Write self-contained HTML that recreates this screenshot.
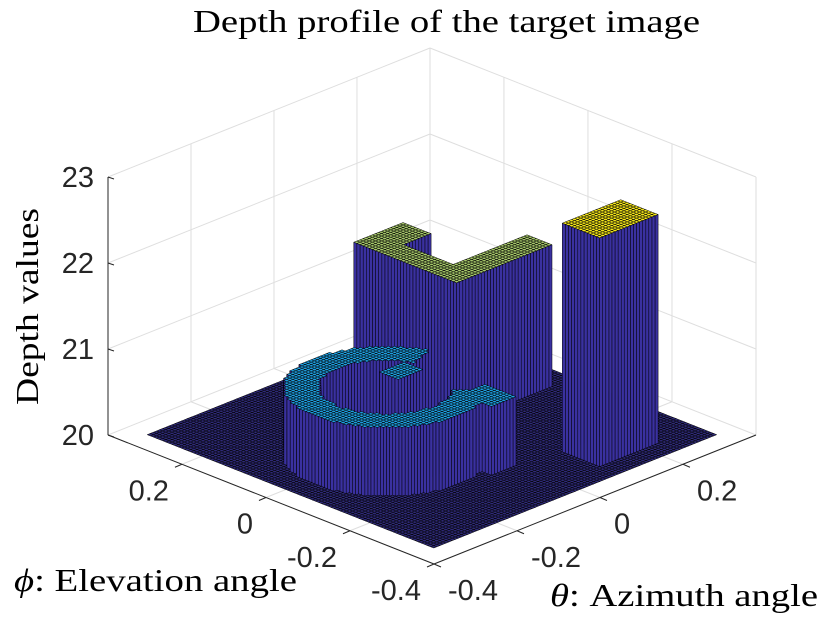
<!DOCTYPE html>
<html><head><meta charset="utf-8"><style>
html,body{margin:0;padding:0;background:#fff;width:835px;height:636px;overflow:hidden}
svg{display:block}
.tk{font-family:"Liberation Sans",sans-serif;font-size:29px;fill:#262626}
.sf{font-family:"Liberation Serif","DejaVu Serif",serif;font-size:32px;fill:#000}
</style></head><body>
<svg id="chart" width="835" height="636" viewBox="0 0 835 636" xmlns="http://www.w3.org/2000/svg">
<g id="grid"></g>
<g id="surf"></g>
<g id="axes"></g>
<text class="sf" x="193" y="32" textLength="507" lengthAdjust="spacingAndGlyphs">Depth profile of the target image</text>
<text class="sf" transform="translate(38,405) rotate(-90)" textLength="197" lengthAdjust="spacingAndGlyphs">Depth values</text>
<text class="sf" x="14" y="591" textLength="283" lengthAdjust="spacingAndGlyphs"><tspan font-style="italic">ϕ</tspan>: Elevation angle</text>
<text class="sf" x="550" y="606" textLength="268" lengthAdjust="spacingAndGlyphs"><tspan font-style="italic">θ</tspan>: Azimuth angle</text>
</svg>
<script>
// ---- data ----
const axisRange = [-0.4, 0.376];
const dataRange = [-0.352, 0.33];
const zRange = [20, 23];
const zTicks = [20, 21, 22, 23];
const thetaTicks = [-0.4, -0.2, 0, 0.2];
const phiTicks = [-0.4, -0.2, 0, 0.2];
const tickLabels = ["-0.4", "-0.2", "0", "0.2"];
const floorZ = 20;
// boxes: [thMin, thMax, phMin, phMax, z]
const boxes = [
  [0.046, 0.10, -0.008, 0.231, 21.65],
  [0.046, 0.17, 0.17, 0.231, 21.65],
  [0.046, 0.28, -0.008, 0.045, 21.65],
  [0.09, 0.235, -0.307, -0.22, 22.66],
  [-0.09, -0.03, -0.01, 0.035, 20.8],
  [-0.06, -0.005, -0.205, -0.13, 20.8]
];
// ring: [centerTh, centerPh, rIn, rOut, gapStartDeg, gapEndDeg, z]
const ring = [-0.13, -0.019, 0.115, 0.172, -50, 20, 20.8];

// ---- projection ----
const span = axisRange[1] - axisRange[0];
function P(th, ph, z) {
  const u = (th - axisRange[0]) / span, v = (ph - axisRange[0]) / span;
  return [434 + 322 * u - 326 * v, 564 - 129 * u - 129 * v - 86 * (z - 20)];
}
const NS = "http://www.w3.org/2000/svg";
function poly(g, pts, fill, stroke, sw) {
  const p = document.createElementNS(NS, "polygon");
  p.setAttribute("points", pts.map(q => q[0].toFixed(1) + "," + q[1].toFixed(1)).join(" "));
  p.setAttribute("fill", fill);
  if (stroke) { p.setAttribute("stroke", stroke); p.setAttribute("stroke-width", sw); p.setAttribute("stroke-linejoin", "round"); }
  g.appendChild(p); return p;
}
function line(g, a, b, color, w) {
  const l = document.createElementNS(NS, "line");
  l.setAttribute("x1", a[0]); l.setAttribute("y1", a[1]);
  l.setAttribute("x2", b[0]); l.setAttribute("y2", b[1]);
  l.setAttribute("stroke", color); l.setAttribute("stroke-width", w);
  g.appendChild(l); return l;
}
function text(g, x, y, s, anchor) {
  const t = document.createElementNS(NS, "text");
  t.setAttribute("x", x); t.setAttribute("y", y);
  t.setAttribute("class", "tk"); t.setAttribute("text-anchor", anchor);
  t.textContent = s; g.appendChild(t); return t;
}

// ---- grid ----
const grid = document.getElementById("grid");
const A0 = axisRange[0], A1 = axisRange[1];
const gc = "#dedede";
zTicks.forEach(z => {
  line(grid, P(A0, A1, z), P(A1, A1, z), gc, 1);
  line(grid, P(A1, A1, z), P(A1, A0, z), gc, 1);
});
thetaTicks.forEach(t => {
  line(grid, P(t, A1, zRange[0]), P(t, A1, zRange[1]), gc, 1);
  line(grid, P(t, A0, zRange[0]), P(t, A1, zRange[0]), gc, 1);
});
phiTicks.forEach(p => {
  line(grid, P(A1, p, zRange[0]), P(A1, p, zRange[1]), gc, 1);
  line(grid, P(A0, p, zRange[0]), P(A1, p, zRange[0]), gc, 1);
});
line(grid, P(A1, A1, zRange[0]), P(A1, A1, zRange[1]), gc, 1);

// ---- height field ----
function height(th, ph) {
  for (const b of boxes) if (th >= b[0] && th <= b[1] && ph >= b[2] && ph <= b[3]) return b[4];
  const dx = th - ring[0], dy = ph - ring[1], r = Math.hypot(dx, dy);
  if (r >= ring[2] && r <= ring[3]) {
    const a = Math.atan2(dy, dx) * 180 / Math.PI;
    if (!(a > ring[4] && a < ring[5])) return ring[6];
  }
  return floorZ;
}
function color(z) {
  if (z >= 22.4) return "#f6e81a";
  if (z >= 21.4) return "#a6c86a";
  if (z >= 20.5) return "#1f9fe0";
  return "#2f2a78";
}
const N = 92, d = (dataRange[1] - dataRange[0]) / N;
const H = [];
for (let i = 0; i < N; i++) { H[i] = []; for (let j = 0; j < N; j++) H[i][j] = height(dataRange[0] + (i + 0.5) * d, dataRange[0] + (j + 0.5) * d); }
const surf = document.getElementById("surf");
const wallFill = "#3a31a0";
for (let s = 2 * N - 2; s >= 0; s--) {
  for (let i = Math.min(N - 1, s); i >= 0 && s - i < N; i--) {
    const j = s - i, h = H[i][j];
    const t0 = dataRange[0] + i * d, t1 = t0 + d, p0 = dataRange[0] + j * d, p1 = p0 + d;
    poly(surf, [P(t0, p0, h), P(t1, p0, h), P(t1, p1, h), P(t0, p1, h)], color(h), "#000", 0.5);
    const hA = i > 0 ? H[i - 1][j] : floorZ;
    if (h > hA) poly(surf, [P(t0, p0, h), P(t0, p1, h), P(t0, p1, hA), P(t0, p0, hA)], wallFill, "#000", 0.5);
    const hB = j > 0 ? H[i][j - 1] : floorZ;
    if (h > hB) poly(surf, [P(t0, p0, h), P(t1, p0, h), P(t1, p0, hB), P(t0, p0, hB)], wallFill, "#000", 0.5);
  }
}

// ---- axes ----
const axes = document.getElementById("axes");
const ac = "#262626";
line(axes, P(A0, A1, zRange[0]), P(A0, A1, zRange[1]), ac, 1);
line(axes, P(A0, A1, zRange[0]), P(A0, A0, zRange[0]), ac, 1);
line(axes, P(A0, A0, zRange[0]), P(A1, A0, zRange[0]), ac, 1);
zTicks.forEach(z => {
  const a = P(A0, A1, z);
  line(axes, a, [a[0] + 6, a[1] + 2], ac, 1);
  const t = text(axes, a[0] - 14, a[1] + 10, String(z), "end");
  
  
});
phiTicks.forEach((p, k) => {
  const a = P(A0, p, zRange[0]);
  line(axes, a, [a[0] - 7, a[1] + 3], ac, 1);
  const t = text(axes, a[0] - 13, a[1] + 36, tickLabels[k], "end");
  
  
});
thetaTicks.forEach((th, k) => {
  const a = P(th, A0, zRange[0]);
  line(axes, a, [a[0] + 7, a[1] + 3], ac, 1);
  const t = text(axes, a[0] + 14, a[1] + 36, tickLabels[k], "start");
  
  
});
</script>
</body></html>
